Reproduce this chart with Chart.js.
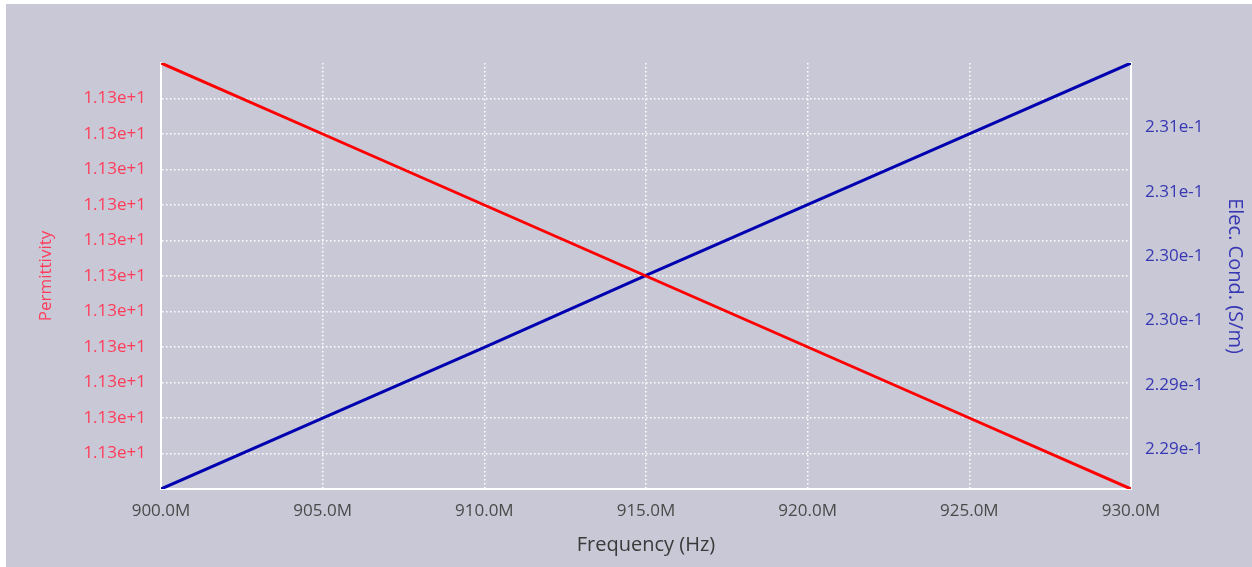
<!DOCTYPE html>
<html>
<head>
<meta charset="utf-8">
<script src="https://cdn.jsdelivr.net/npm/chart.js@4.4.0/dist/chart.umd.min.js"></script>
<style>
  html, body { margin: 0; padding: 0; background: #fff; overflow: hidden; }
  #wrap { position: absolute; left: 6px; top: 4px; width: 1246px; height: 563px; background: rgb(200, 200, 214); }
</style>
</head>
<body>
<div id="wrap"><canvas id="sweepChart" width="1246" height="563"></canvas></div>
<script>
// frequency sweep, Hz
const frequency = [900e6, 905e6, 910e6, 915e6, 920e6, 925e6, 930e6];
const permittivity = [11.3060, 11.3040, 11.3020, 11.3000, 11.2980, 11.2960, 11.2940];
const conductivity = [0.22869, 0.22924, 0.22979, 0.23035, 0.23090, 0.23145, 0.23200];

// left axis ticks (all show as 1.13e+1)
const permTicks = [11.295, 11.296, 11.297, 11.298, 11.299, 11.300, 11.301, 11.302, 11.303, 11.304, 11.305];
// right axis ticks + labels
const condTicks = [0.2290, 0.2295, 0.2300, 0.2305, 0.2310, 0.2315];
const condTickLabels = ['2.29e-1', '2.29e-1', '2.30e-1', '2.30e-1', '2.31e-1', '2.31e-1'];

const redTxt = 'rgb(255, 60, 90)';
const blueTxt = 'rgb(55, 55, 180)';
const gridDots = { color: '#ffffff', lineWidth: 1.5, drawTicks: false };
const dots = [1.5, 2.5];
const fontFam = "'Open Sans', sans-serif";

const ctx = document.getElementById('sweepChart');

const chartData = {
    datasets: [
        {
            label: 'Permittivity',
            data: frequency.map((f, i) => ({ x: f, y: permittivity[i] })),
            borderColor: '#ff0000',
            borderWidth: 3,
            pointRadius: 0,
            yAxisID: 'yPerm'
        },
        {
            label: 'Elec. Cond. (S/m)',
            data: frequency.map((f, i) => ({ x: f, y: conductivity[i] })),
            borderColor: '#0000b0',
            borderWidth: 3,
            pointRadius: 0,
            yAxisID: 'yCond'
        }
    ]
};

const sweepConfig = {
    type: 'line',
    data: chartData,
    options: {
        responsive: false,
        animation: false,
        layout: { padding: { top: 59, right: 0, left: 0, bottom: 0 } },
        plugins: { legend: { display: false }, tooltip: { enabled: false } },
        scales: {
            x: {
                type: 'linear',
                min: 900e6,
                max: 930e6,
                ticks: {
                    stepSize: 5e6,
                    padding: 12,
                    color: '#4a4a4a',
                    font: { family: fontFam, size: 17 },
                    maxRotation: 0,
                    callback: v => (v / 1e6).toFixed(1) + 'M'
                },
                grid: gridDots,
                border: { display: true, color: '#ffffff', width: 2, dash: dots },
                title: {
                    display: true,
                    text: 'Frequency (Hz)',
                    color: '#3a3a3a',
                    font: { family: fontFam, size: 20 },
                    padding: { top: 0, bottom: 10 }
                },
                afterFit: s => { s.height = 78; }
            },
            yPerm: {
                type: 'linear',
                position: 'left',
                min: 11.294,
                max: 11.306,
                afterBuildTicks: s => { s.ticks = permTicks.map(v => ({ value: v })); },
                ticks: {
                    padding: 15,
                    color: redTxt,
                    font: { family: fontFam, size: 17 },
                    callback: v => Number(v).toExponential(2)
                },
                grid: gridDots,
                border: { display: true, color: '#ffffff', width: 2, dash: dots },
                title: {
                    display: true,
                    text: 'Permittivity',
                    color: redTxt,
                    font: { family: fontFam, size: 17 },
                    padding: { top: 30, bottom: 0 }
                },
                afterFit: s => { s.width = 155; }
            },
            yCond: {
                type: 'linear',
                position: 'right',
                min: 0.22869,
                max: 0.23200,
                afterBuildTicks: s => { s.ticks = condTicks.map(v => ({ value: v })); },
                ticks: {
                    padding: 14,
                    color: blueTxt,
                    font: { family: fontFam, size: 17 },
                    callback: (v, i) => condTickLabels[i]
                },
                grid: { display: false, drawTicks: false },
                border: { display: true, color: '#ffffff', width: 2 },
                title: {
                    display: true,
                    text: 'Elec. Cond. (S/m)',
                    color: blueTxt,
                    font: { family: fontFam, size: 20 },
                    padding: { top: 5, bottom: 0 }
                },
                afterFit: s => { s.width = 121; }
            }
        }
    }
};

let sweepChart = new Chart(ctx, sweepConfig);
</script>
</body>
</html>
